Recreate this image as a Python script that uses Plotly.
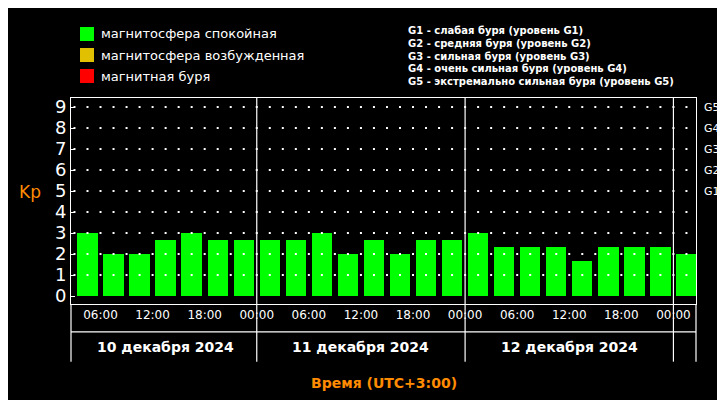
import plotly.graph_objects as go

hours = [4.5 + 3 * i for i in range(24)]
kp = [3, 2, 2, 2.67, 3, 2.67, 2.67,
      2.67, 2.67, 3, 2, 2.67, 2, 2.67, 2.67,
      3, 2.33, 2.33, 2.33, 1.67, 2.33, 2.33, 2.33,
      2]
tick_vals = [6, 12, 18, 24, 30, 36, 42, 48, 54, 60, 66, 72]
tick_text = ["06:00", "12:00", "18:00", "00:00"] * 3
day_labels = ["10 декабря 2024", "11 декабря 2024", "12 декабря 2024"]
day_centers = [13.5, 36, 60]
legend_items = [("магнитосфера спокойная", "#00ff00"),
                ("магнитосфера возбужденная", "#e0c000"),
                ("магнитная буря", "#ff0000")]
g_lines = ["G1 - слабая буря (уровень G1)",
           "G2 - средняя буря (уровень G2)",
           "G3 - сильная буря (уровень G3)",
           "G4 - очень сильная буря (уровень G4)",
           "G5 - экстремально сильная буря (уровень G5)"]

colors = ["#00ff00" if v < 4 else ("#e0c000" if v < 5 else "#ff0000") for v in kp]

fig = go.Figure()
gx, gy = [], []
for y in range(1, 10):
    for k in range(2, 50):
        gx.append(k * 1.5); gy.append(y)
fig.add_trace(go.Scatter(x=gx, y=gy, mode="markers",
                         marker=dict(color="white", size=2, symbol="square"),
                         hoverinfo="skip"))
fig.add_trace(go.Bar(x=hours, y=kp, width=2.35, marker_color=colors, marker_line_width=0))

W0, W1 = 2.6, 74.6
fig.update_xaxes(range=[W0, W1], tickvals=tick_vals, ticktext=tick_text,
                 showgrid=False, zeroline=False, showline=True, linecolor="white",
                 mirror=True, ticks="", tickfont=dict(color="white", size=12, family="DejaVu Sans"))
fig.update_yaxes(range=[-0.38, 9.43], tickvals=list(range(10)), showgrid=False,
                 zeroline=False, showline=True, linecolor="white", mirror=True,
                 ticks="inside", ticklen=4, tickcolor="white",
                 tickfont=dict(color="white", size=18, family="DejaVu Sans"))

shapes = []
for xv in [24, 48, 72]:
    shapes.append(dict(type="line", xref="x", yref="paper", x0=xv, x1=xv, y0=0, y1=1,
                       line=dict(color="white", width=1.2)))
    shapes.append(dict(type="line", xref="x", yref="paper", x0=xv, x1=xv, y0=-0.28, y1=0,
                       line=dict(color="white", width=1.2)))
shapes.append(dict(type="line", xref="paper", yref="paper", x0=1, x1=1, y0=-0.28, y1=0,
                   line=dict(color="white", width=1.2)))
shapes.append(dict(type="line", xref="paper", yref="paper", x0=0, x1=0, y0=-0.28, y1=0,
                   line=dict(color="white", width=1.2)))
shapes.append(dict(type="line", xref="paper", yref="paper", x0=0, x1=1, y0=-0.135, y1=-0.135,
                   line=dict(color="white", width=1.2)))
for i, (t, c) in enumerate(legend_items):
    y = 26 + i * 21
    shapes.append(dict(type="rect", xref="paper", yref="paper",
                       x0=(72 - 63) / 625, x1=(86 - 63) / 625,
                       y0=(296 - (y + 7)) / 206, y1=(296 - (y - 7)) / 206,
                       fillcolor=c, line_width=0))
fig.update_layout(shapes=shapes)

ann = []
for i, (t, c) in enumerate(legend_items):
    y = 26 + i * 21
    ann.append(dict(text=t, xref="paper", yref="paper", x=(91 - 63) / 625, y=(296 - y) / 206,
                    xanchor="left", yanchor="middle", showarrow=False,
                    font=dict(color="white", size=13, family="DejaVu Sans")))
for i, t in enumerate(g_lines):
    y = 23 + i * 12.5
    ann.append(dict(text=t, xref="paper", yref="paper", x=(398 - 63) / 625, y=(296 - y) / 206,
                    xanchor="left", yanchor="middle", showarrow=False,
                    font=dict(color="white", size=10, family="DejaVu Sans", weight="bold")))
for lvl in range(5, 10):
    ann.append(dict(text=f"G{lvl-4}", xref="paper", yref="y", x=1.01, y=lvl,
                    xanchor="left", yanchor="middle", showarrow=False,
                    font=dict(color="white", size=11, family="DejaVu Sans")))
for t, xc in zip(day_labels, day_centers):
    ann.append(dict(text=t, xref="x", yref="paper", x=xc, y=-0.21, showarrow=False,
                    xanchor="center", yanchor="middle",
                    font=dict(color="white", size=14, family="DejaVu Sans", weight="bold")))
ann.append(dict(text="Время (UTC+3:00)", xref="paper", yref="paper", x=0.5, y=(296 - 375) / 206,
                showarrow=False, xanchor="center", yanchor="middle",
                font=dict(color="#ff8c00", size=14, family="DejaVu Sans", weight="bold")))
ann.append(dict(text="Kp", xref="paper", yref="paper", x=-0.045, y=(296 - 184) / 206,
                showarrow=False, xanchor="right", yanchor="middle",
                font=dict(color="#ff8c00", size=17, family="DejaVu Sans")))

fig.update_layout(annotations=ann, width=725, height=400, showlegend=False,
                  margin=dict(l=63, r=37, t=90, b=104, autoexpand=False),
                  paper_bgcolor="black", plot_bgcolor="black", bargap=0)
fig.write_html("out.html")
